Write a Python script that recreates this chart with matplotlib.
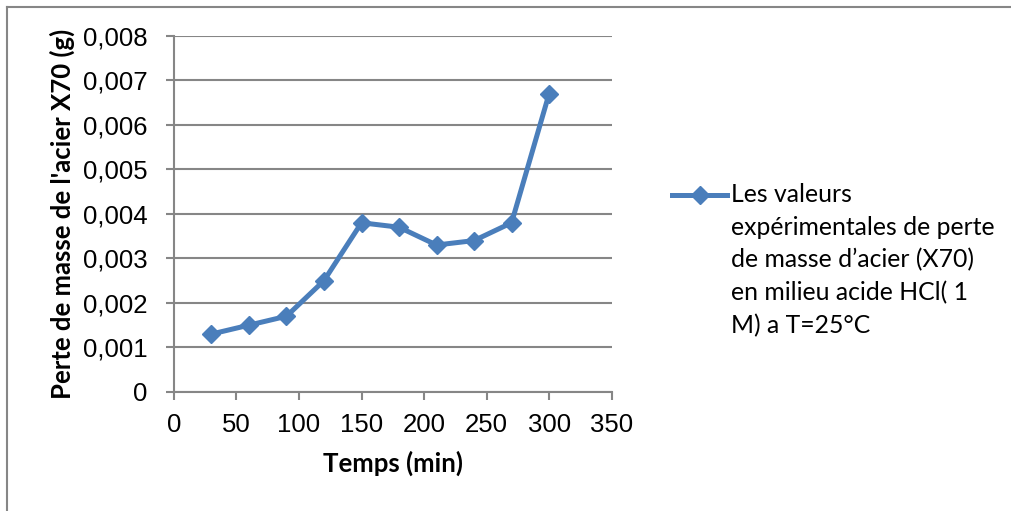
import numpy as np
import matplotlib.pyplot as plt
from matplotlib.lines import Line2D
from matplotlib.ticker import FuncFormatter

# Temps (min) et perte de masse (g)
temps = [30, 60, 90, 120, 150, 180, 210, 240, 270, 300]
perte_masse = [0.0013, 0.0015, 0.0017, 0.0025, 0.0038, 0.0037, 0.0033, 0.0034, 0.0038, 0.0067]

x_ticks = [0, 50, 100, 150, 200, 250, 300, 350]
y_ticks = [0, 0.001, 0.002, 0.003, 0.004, 0.005, 0.006, 0.007, 0.008]

legend_label = ("Les valeurs\nexpérimentales de perte\nde masse d\u2019acier (X70)\n"
                "en milieu acide HCl( 1\nM) a T=25°C")

blue = '#4A7EBB'
gray = '#868686'

fig = plt.figure(figsize=(10.11, 5.11), dpi=100)
ax = fig.add_axes([0.172, 0.233, 0.433, 0.697])

# chart frame (only left and top visible in the crop)
fig.add_artist(Line2D([0.007, 0.007], [0, 0.987], color=gray, lw=1.5, transform=fig.transFigure))
fig.add_artist(Line2D([0.007, 1.0], [0.987, 0.987], color=gray, lw=1.5, transform=fig.transFigure))

ax.plot(temps, perte_masse, color=blue, lw=3.6, marker='D', markersize=9.5,
        markerfacecolor=blue, markeredgecolor=blue, zorder=3, clip_on=False)

ax.set_xlim(0, 350)
ax.set_ylim(0, 0.008)
ax.set_xticks(x_ticks)
ax.set_yticks(y_ticks)
ax.yaxis.set_major_formatter(FuncFormatter(lambda v, p: '0' if v == 0 else f'{v:.3f}'.replace('.', ',')))

ax.grid(axis='y', color=gray, lw=1.5)
ax.set_axisbelow(True)
for s in ['top', 'right']:
    ax.spines[s].set_visible(False)
for s in ['left', 'bottom']:
    ax.spines[s].set_color(gray)
    ax.spines[s].set_linewidth(1.5)

ax.tick_params(axis='both', direction='out', color=gray, width=1.5, length=6,
               labelsize=18.5)
ax.tick_params(axis='y', pad=13)
ax.tick_params(axis='x', pad=9)
for lbl in ax.get_xticklabels() + ax.get_yticklabels():
    lbl.set_family('Liberation Sans')

ax.set_xlabel('Temps (min)', family='Lato', fontweight='bold', fontsize=18.5, labelpad=10)
ax.set_ylabel("Perte de masse de l'acier X70 (g)", family='Lato', fontweight='bold',
              fontsize=18.5, labelpad=6)

# legend: handle beside the first line of a wrapped label
legend_handle = Line2D([672 / 1011, 727 / 1011], [1 - 195 / 511, 1 - 195 / 511],
                       color=blue, lw=3.6, transform=fig.transFigure)
legend_marker = Line2D([699.5 / 1011], [1 - 195 / 511], color=blue, marker='D',
                       markersize=9.5, transform=fig.transFigure)
fig.add_artist(legend_handle)
fig.add_artist(legend_marker)
fig.text(731 / 1011, 1 - 183 / 511, legend_label, family='Lato', fontsize=17.8,
         va='top', ha='left', linespacing=1.5)

fig.savefig('out.png', dpi=100)
